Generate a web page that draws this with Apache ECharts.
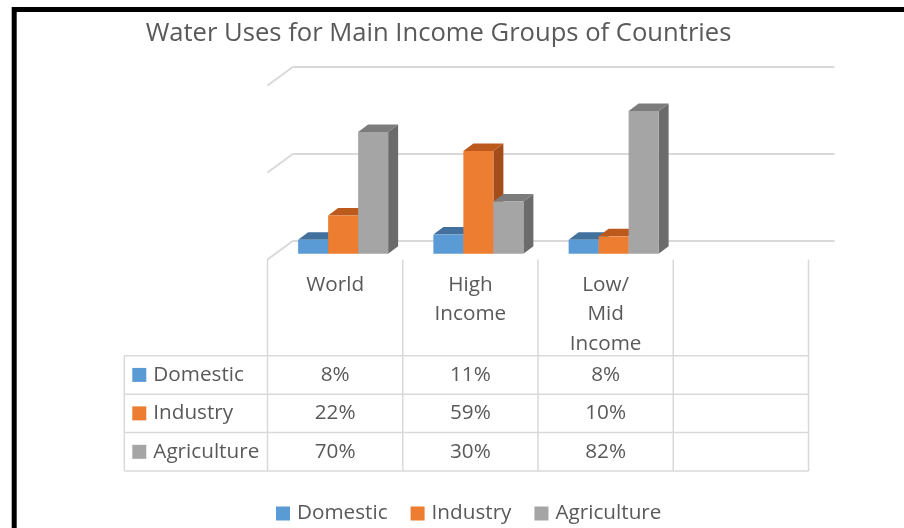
<!DOCTYPE html>
<html>
<head>
<meta charset="utf-8">
<title>Water Uses for Main Income Groups of Countries</title>
<script src="https://cdn.jsdelivr.net/npm/echarts@6/dist/echarts.min.js"></script>
<style>
  html, body { margin: 0; padding: 0; background: #ffffff; }
  #chart { width: 904px; height: 528px; }
</style>
</head>
<body>
<div id="chart"></div>
<script>
// ---- data ----
const categories = ['World', 'High\nIncome', 'Low/\nMid\nIncome', ''];
const seriesNames = ['Domestic', 'Industry', 'Agriculture'];
const domestic = [8, 11, 8];
const industry = [22, 59, 10];
const agriculture = [70, 30, 82];
const valueTicks = { min: 0, max: 100, interval: 50 };

// ---- styling ----
const FONT = '"Open Sans", "Noto Sans", sans-serif';
const TEXT_COLOR = '#595959';
const LINE_COLOR = '#D9D9D9';
const faceColors = [
  { front: '#5B9BD5', top: '#41719C', side: '#3A6790' },
  { front: '#ED7D31', top: '#BC5A1E', side: '#A34E1A' },
  { front: '#A5A5A5', top: '#7C7C7C', side: '#6B6B6B' }
];
const seriesValues = [domestic, industry, agriculture];

// perspective: the floor runs from the back wall towards the viewer (down-left)
const FLOOR_DX = 26, FLOOR_DY = 19;
const BAR_DX = 10, BAR_DY = 7.5;
const BAR_W = 30;

// table layout
const TABLE_LEFT = 124.3;
const HEADER_BOTTOM = 355.7;
const ROW_H = 38.45;
const HEADER_LINE_H = 29.7;
const TABLE_FONT_SIZE = 20.7;

function barRenderer(k) {
  return function (params, api) {
    const cat = api.value(0);
    const v = api.value(1);
    const base = api.coord([cat, 0]);
    const top = api.coord([cat, v]);
    const ox = -(FLOOR_DX + BAR_DX) / 2;
    const oy = (FLOOR_DY + BAR_DY) / 2;
    const x0 = base[0] + ox + (k - 1.5) * BAR_W;
    const x1 = x0 + BAR_W;
    const yb = base[1] + oy;
    const yt = top[1] + oy;
    const c = faceColors[k];
    return {
      type: 'group',
      children: [
        {
          type: 'polygon',
          shape: { points: [[x1, yt], [x1, yb], [x1 + BAR_DX, yb - BAR_DY], [x1 + BAR_DX, yt - BAR_DY]] },
          style: { fill: c.side }
        },
        {
          type: 'polygon',
          shape: { points: [[x0, yt], [x1, yt], [x1 + BAR_DX, yt - BAR_DY], [x0 + BAR_DX, yt - BAR_DY]] },
          style: { fill: c.top }
        },
        {
          type: 'rect',
          shape: { x: x0, y: yt, width: BAR_W, height: yb - yt },
          style: { fill: c.front }
        }
      ]
    };
  };
}

// side-wall diagonals joining each back gridline
function wallRenderer(params, api) {
  const v = api.value(1);
  const y = api.coord([0, v])[1];
  const x = params.coordSys.x;
  return {
    type: 'line',
    shape: { x1: x - FLOOR_DX, y1: y + FLOOR_DY, x2: x, y2: y },
    style: { stroke: LINE_COLOR, lineWidth: 2 }
  };
}

// data table under the plot: one column per category
function tableRenderer(params, api) {
  const i = api.value(0);
  const band = api.size([1, 0])[0];
  const p = api.coord([i, 0]);
  const cx = p[0] - FLOOR_DX;
  const left = cx - band / 2;
  const right = cx + band / 2;
  const tableTop = p[1] + FLOOR_DY;
  const nRows = seriesNames.length;
  const bottom = HEADER_BOTTOM + nRows * ROW_H;
  const children = [];
  const line = (x1, y1, x2, y2) => children.push({
    type: 'line', shape: { x1, y1, x2, y2 },
    style: { stroke: LINE_COLOR, lineWidth: 1.5 }
  });

  line(left, tableTop, left, bottom);
  if (i === categories.length - 1) line(right, tableTop, right, bottom);
  for (let r = 0; r <= nRows; r++) {
    const y = HEADER_BOTTOM + r * ROW_H;
    line(left, y, right, y);
  }

  children.push({
    type: 'text',
    style: {
      x: cx, y: tableTop + 10.5, text: categories[i],
      align: 'center', verticalAlign: 'top',
      fontFamily: FONT, fontSize: TABLE_FONT_SIZE, lineHeight: HEADER_LINE_H,
      fill: TEXT_COLOR
    }
  });

  seriesValues.forEach((vals, r) => {
    const v = vals[i];
    if (v === undefined) return;
    children.push({
      type: 'text',
      style: {
        x: cx, y: HEADER_BOTTOM + (r + 0.5) * ROW_H, text: v + '%',
        align: 'center', verticalAlign: 'middle',
        fontFamily: FONT, fontSize: TABLE_FONT_SIZE, fill: TEXT_COLOR
      }
    });
  });

  // row-label column to the left of the first category
  if (i === 0) {
    line(TABLE_LEFT, HEADER_BOTTOM, TABLE_LEFT, bottom);
    for (let r = 0; r <= nRows; r++) {
      const y = HEADER_BOTTOM + r * ROW_H;
      line(TABLE_LEFT, y, left, y);
    }
    seriesNames.forEach((name, r) => {
      const cy = HEADER_BOTTOM + (r + 0.5) * ROW_H;
      children.push({
        type: 'rect',
        shape: { x: TABLE_LEFT + 8, y: cy - 7, width: 14, height: 14 },
        style: { fill: faceColors[r].front }
      });
      children.push({
        type: 'text',
        style: {
          x: TABLE_LEFT + 29, y: cy, text: name,
          align: 'left', verticalAlign: 'middle',
          fontFamily: FONT, fontSize: TABLE_FONT_SIZE, fill: TEXT_COLOR
        }
      });
    });
  }
  return { type: 'group', children };
}

const chart = echarts.init(document.getElementById('chart'), null, { renderer: 'canvas' });

const option = {
  backgroundColor: '#ffffff',
  animation: false,
  graphic: [
    {
      type: 'rect', silent: true, z: 100,
      shape: { x: 14.2, y: 9.5, width: 1000, height: 1000 },
      style: { fill: 'none', stroke: '#000000', lineWidth: 5 }
    },
    {
      type: 'text', silent: true,
      style: {
        x: 438.5, y: 34, text: 'Water Uses for Main Income Groups of Countries',
        align: 'center', verticalAlign: 'middle',
        fontFamily: FONT, fontSize: 25.6, fill: TEXT_COLOR
      }
    }
  ],
  legend: {
    data: seriesNames,
    left: 276,
    top: 503,
    padding: 0,
    icon: 'rect',
    itemWidth: 14,
    itemHeight: 14,
    itemGap: 23,
    textStyle: { fontFamily: FONT, fontSize: TABLE_FONT_SIZE, color: TEXT_COLOR, padding: [0, 0, 0, 2] }
  },
  grid: { left: 293.5, top: 66.5, width: 541, height: 174 },
  xAxis: {
    type: 'category',
    data: categories,
    boundaryGap: true,
    axisLine: { show: false },
    axisTick: { show: false },
    axisLabel: { show: false }
  },
  yAxis: {
    type: 'value',
    min: valueTicks.min,
    max: valueTicks.max,
    interval: valueTicks.interval,
    axisLine: { show: false },
    axisTick: { show: false },
    axisLabel: { show: false },
    splitLine: { show: true, lineStyle: { color: LINE_COLOR, width: 2 } }
  },
  series: [
    {
      type: 'custom', name: 'wall', silent: true, z: 1,
      renderItem: wallRenderer,
      data: [valueTicks.min, valueTicks.min + valueTicks.interval, valueTicks.max].map(v => [0, v])
    },
    {
      type: 'custom', name: 'table', silent: true, z: 1,
      renderItem: tableRenderer,
      data: categories.map((c, i) => [i, 0])
    }
  ].concat(seriesNames.map((name, k) => ({
    type: 'custom',
    name: name,
    z: 2,
    itemStyle: { color: faceColors[k].front },
    renderItem: barRenderer(k),
    data: seriesValues[k].map((v, i) => [i, v])
  })))
};

chart.setOption(option);
</script>
</body>
</html>
